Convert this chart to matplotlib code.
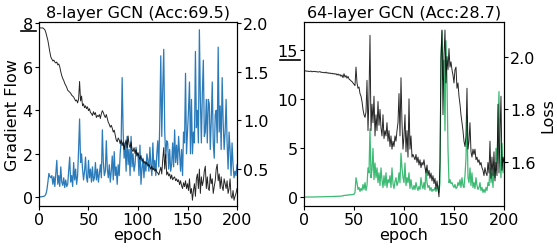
import numpy as np
import matplotlib
matplotlib.use("Agg")
import matplotlib.pyplot as plt

epochs = np.arange(0, 201)

# 8-layer GCN, gradient flow (left axis)
grad_8 = [0.02, 0.02, 0.03, 0.03, 0.04, 0.05, 0.08, 0.15, 0.35, 0.7,
          1.1, 0.95, 0.9, 1.0, 0.6, 0.95, 0.5, 1.1, 1.7, 0.6,
          1.0, 0.5, 1.4, 0.7, 0.55, 0.9, 0.45, 0.8, 0.5, 0.6,
          1.2, 1.85, 0.7, 1.0, 0.5, 1.6, 0.8, 1.3, 0.6, 1.0,
          2.2, 3.6, 1.6, 2.0, 1.3, 0.8, 1.2, 1.85, 0.9, 0.7,
          1.7, 0.9, 1.3, 0.7, 1.4, 0.75, 0.9, 1.6, 0.8, 1.3,
          0.7, 1.1, 1.5, 0.9, 3.1, 1.6, 1.0, 1.2, 2.6, 1.3,
          0.9, 1.5, 0.7, 1.2, 1.9, 0.8, 2.1, 1.0, 1.4, 0.6,
          1.5, 1.0, 2.0, 2.6, 5.5, 3.0, 1.8, 2.5, 1.2, 2.8,
          1.5, 2.2, 1.0, 2.8, 1.4, 2.0, 1.2, 1.5, 2.3, 1.9,
          2.0, 1.0, 2.4, 0.6, 1.3, 1.8, 0.9, 1.6, 1.2, 2.0,
          1.7, 1.2, 2.3, 1.5, 1.0, 2.5, 1.3, 1.7, 1.0, 2.0,
          2.6, 1.4, 3.5, 6.5, 2.8, 5.0, 6.8, 3.0, 1.8, 2.6,
          2.5, 1.3, 2.2, 1.2, 1.5, 2.5, 1.4, 3.1, 1.6, 2.4,
          1.5, 2.8, 2.0, 1.2, 2.2, 1.0, 3.0, 2.5, 5.7, 2.0,
          3.0, 4.0, 5.3, 2.0, 4.5, 2.0, 3.0, 2.5, 6.7, 3.2,
          4.0, 2.5, 7.7, 4.5, 2.5, 4.8, 6.3, 2.8, 3.0, 4.5,
          2.5, 4.5, 4.3, 2.2, 3.5, 5.3, 2.5, 1.8, 3.8, 4.0,
          2.5, 6.9, 3.0, 4.2, 2.2, 5.5, 3.5, 2.2, 3.0, 4.5,
          2.5, 1.3, 3.0, 2.2, 1.0, 2.5, 1.5, 0.9, 1.2, 1.0,
          1.5]

# 8-layer GCN, loss (right axis)
loss_8 = [1.95, 1.95, 1.95, 1.95, 1.95, 1.94, 1.93, 1.9, 1.86, 1.82,
          1.76, 1.70, 1.65, 1.63, 1.61, 1.62, 1.60, 1.59, 1.60, 1.57,
          1.58, 1.55, 1.50, 1.46, 1.43, 1.41, 1.38, 1.36, 1.34, 1.31,
          1.30, 1.29, 1.28, 1.26, 1.25, 1.24, 1.22, 1.20, 1.21, 1.18,
          1.22, 1.40, 1.20, 1.25, 1.15, 1.17, 1.13, 1.15, 1.12, 1.14,
          1.10, 1.12, 1.08, 1.07, 1.05, 1.09, 1.06, 1.08, 1.03, 1.05,
          1.04, 1.06, 1.02, 1.07, 1.10, 1.08, 1.05, 1.03, 1.06, 1.02,
          0.98, 0.96, 0.93, 0.95, 0.92, 0.88, 0.90, 0.85, 0.80, 0.78,
          0.82, 0.80, 0.76, 0.80, 0.74, 0.78, 0.70, 0.76, 0.80, 0.72,
          0.84, 0.75, 0.72, 0.78, 0.70, 0.68, 0.72, 0.66, 0.70, 0.64,
          0.67, 0.62, 0.60, 0.64, 0.58, 0.60, 0.56, 0.58, 0.55, 0.57,
          0.53, 0.55, 0.52, 0.50, 0.53, 0.49, 0.51, 0.48, 0.50, 0.47,
          0.46, 0.44, 0.48, 0.52, 0.45, 0.60, 0.72, 0.50, 0.65, 0.44,
          0.47, 0.43, 0.45, 0.40, 0.44, 0.39, 0.41, 0.42, 0.38, 0.40,
          0.37, 0.39, 0.34, 0.38, 0.33, 0.30, 0.36, 0.32, 0.38, 0.30,
          0.35, 0.28, 0.40, 0.25, 0.30, 0.18, 0.28, 0.35, 0.22, 0.40,
          0.45, 0.30, 0.50, 0.25, 0.42, 0.33, 0.38, 0.48, 0.53, 0.30,
          0.42, 0.30, 0.28, 0.45, 0.35, 0.40, 0.25, 0.32, 0.38, 0.50,
          0.55, 0.38, 0.45, 0.30, 0.42, 0.32, 0.28, 0.40, 0.35, 0.30,
          0.38, 0.25, 0.30, 0.40, 0.22, 0.20, 0.28, 0.18, 0.22, 0.25,
          0.30]

# 64-layer GCN, gradient flow (left axis)
grad_64 = [0.02, 0.02, 0.02, 0.03, 0.02, 0.03, 0.03, 0.02, 0.03, 0.03,
           0.03, 0.04, 0.03, 0.04, 0.04, 0.05, 0.04, 0.05, 0.05, 0.06,
           0.05, 0.06, 0.06, 0.07, 0.06, 0.07, 0.08, 0.07, 0.08, 0.08,
           0.09, 0.08, 0.1, 0.09, 0.11, 0.1, 0.12, 0.11, 0.15, 0.13,
           0.2, 0.18, 0.22, 0.2, 0.25, 0.22, 0.27, 0.25, 0.28, 0.3,
           0.3, 0.5, 2.0, 1.5, 0.8, 1.0, 0.6, 0.9, 0.7, 1.3,
           0.8, 1.5, 0.7, 1.2, 3.0, 2.5, 7.0, 2.0, 2.8, 5.0,
           1.8, 3.5, 2.0, 3.0, 1.5, 2.5, 1.2, 3.0, 1.8, 1.0,
           2.2, 1.2, 2.5, 1.0, 1.8, 1.5, 2.2, 1.0, 3.0, 1.4,
           0.9, 1.6, 2.0, 1.2, 1.5, 2.5, 1.5, 4.5, 3.0, 2.0,
           1.5, 3.5, 1.2, 2.0, 1.5, 2.5, 0.9, 1.8, 1.0, 0.8,
           1.2, 0.8, 1.5, 1.0, 0.7, 1.1, 0.8, 2.0, 1.2, 0.9,
           1.5, 0.8, 3.0, 1.5, 1.0, 1.2, 0.7, 1.0, 0.6, 0.8,
           0.7, 1.0, 0.6, 0.9, 1.2, 0.5, 1.5, 14.0, 17.0, 12.0,
           14.0, 6.8, 16.0, 12.0, 5.0, 1.5, 1.8, 1.4, 1.5, 1.2,
           1.0, 1.3, 0.9, 1.0, 1.5, 1.2, 1.8, 1.0, 2.0, 1.2,
           1.0, 2.2, 4.0, 8.3, 2.0, 1.5, 3.0, 1.2, 2.5, 1.0,
           1.5, 0.9, 2.0, 1.2, 0.8, 1.0, 1.5, 0.7, 1.0, 0.5,
           0.8, 0.5, 1.0, 0.7, 1.5, 1.2, 3.0, 1.5, 2.5, 1.0,
           3.0, 2.0, 5.0, 3.5, 7.0, 10.8, 4.0, 2.0, 5.5, 2.5,
           4.0]

# 64-layer GCN, loss (right axis)
loss_64 = [1.946, 1.945, 1.946, 1.944, 1.945, 1.943, 1.944, 1.945, 1.942, 1.944,
           1.943, 1.944, 1.942, 1.943, 1.941, 1.942, 1.943, 1.940, 1.941, 1.939,
           1.940, 1.938, 1.941, 1.937, 1.939, 1.936, 1.938, 1.935, 1.937, 1.934,
           1.936, 1.933, 1.935, 1.930, 1.934, 1.929, 1.932, 1.925, 1.930, 1.920,
           1.935, 1.922, 1.928, 1.918, 1.925, 1.915, 1.912, 1.908, 1.905, 1.900,
           1.895, 1.890, 1.960, 1.900, 1.880, 1.885, 1.860, 1.850, 1.830, 1.800,
           1.780, 1.770, 1.790, 1.910, 1.720, 1.850, 2.080, 1.720, 1.820, 1.750,
           1.850, 1.700, 1.780, 1.720, 1.830, 1.740, 1.800, 1.730, 1.700, 1.780,
           1.690, 1.720, 1.700, 1.750, 1.680, 1.720, 1.660, 1.700, 1.650, 1.680,
           1.660, 1.700, 1.680, 1.720, 1.750, 1.860, 1.700, 1.920, 1.750, 1.650,
           1.700, 1.780, 1.640, 1.720, 1.620, 1.840, 1.650, 1.700, 1.620, 1.630,
           1.620, 1.610, 1.630, 1.600, 1.620, 1.590, 1.610, 1.580, 1.600, 1.590,
           1.610, 1.580, 1.560, 1.590, 1.550, 1.570, 1.540, 1.560, 1.530, 1.550,
           1.520, 1.540, 1.500, 1.530, 1.500, 1.470, 1.600, 2.000, 2.100, 1.780,
           2.000, 2.100, 1.900, 2.000, 1.950, 2.030, 1.960, 1.980, 1.950, 1.930,
           1.900, 1.950, 1.960, 1.880, 1.900, 1.850, 1.820, 1.780, 1.750, 1.720,
           1.680, 1.660, 1.700, 1.880, 1.650, 1.680, 1.750, 1.640, 1.620, 1.650,
           1.630, 1.650, 1.610, 1.620, 1.600, 1.610, 1.590, 1.600, 1.580, 1.570,
           1.550, 1.580, 1.560, 1.550, 1.600, 1.560, 1.680, 1.540, 1.620, 1.550,
           1.640, 1.530, 1.600, 1.550, 1.820, 1.560, 1.700, 1.850, 1.570, 1.620,
           1.600]

FS = 11.5
plt.rcParams['font.size'] = FS
plt.rcParams['xtick.major.size'] = 3
plt.rcParams['ytick.major.size'] = 3
plt.rcParams['xtick.major.pad'] = 1.5
plt.rcParams['ytick.major.pad'] = 1.5

fig = plt.figure(figsize=(5.57, 2.51), dpi=100)

# left panel
ax1 = fig.add_axes([0.070, 0.175, 0.3555, 0.733])
ax1.plot(epochs, grad_8, color='#2b7bba', lw=0.9)
ax1.set_xlim(0, 200)
ax1.set_ylim(-0.4, 8.05)
ax1.set_xticks([0, 50, 100, 150, 200])
ax1.set_yticks([0, 2, 4, 6, 8])
ax1.set_xlabel('epoch', labelpad=0)
ax1.set_ylabel('Gradient Flow', labelpad=2)
ax1.set_title('8-layer GCN (Acc:69.5)', fontsize=FS, pad=4)
# underline under the top tick label
ax1.plot([-0.092, -0.015], [0.95, 0.95], transform=ax1.transAxes,
         color='black', lw=1.2, clip_on=False)
ax1b = ax1.twinx()
ax1b.plot(epochs, loss_8, color='black', lw=0.7, alpha=0.85)
ax1b.set_ylim(0.12, 2.01)
ax1b.set_yticks([0.5, 1.0, 1.5, 2.0])

# right panel
ax2 = fig.add_axes([0.5458, 0.175, 0.359, 0.733])
ax2.plot(epochs, grad_64, color='#3dbb74', lw=0.9)
ax2.set_xlim(0, 200)
ax2.set_ylim(-0.9, 17.9)
ax2.set_xticks([0, 50, 100, 150, 200])
ax2.set_yticks([0, 5, 10, 15])
ax2.set_xlabel('epoch', labelpad=0)
ax2.set_title('64-layer GCN (Acc:28.7)', fontsize=FS, pad=4)
ax2.plot([-0.1185, -0.0215], [0.795, 0.795], transform=ax2.transAxes,
         color='black', lw=1.2, clip_on=False)
ax2b = ax2.twinx()
ax2b.plot(epochs, loss_64, color='black', lw=0.7, alpha=0.85)
ax2b.set_ylim(1.435, 2.13)
ax2b.set_yticks([1.6, 1.8, 2.0])
ax2b.set_ylabel('Loss', labelpad=3)

fig.savefig('out.png', dpi=100)
